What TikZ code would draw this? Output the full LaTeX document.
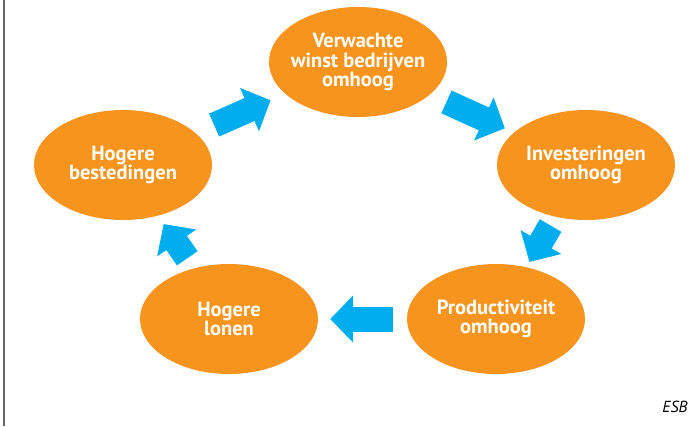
\documentclass[tikz,border=0pt]{standalone}
\usepackage{fontspec}
\setmainfont{PT Sans}
\usetikzlibrary{positioning,arrows.meta,shapes.geometric}

\definecolor{esborange}{HTML}{F7941D}
\definecolor{esbblue}{HTML}{00AEEF}

\begin{document}
\begin{tikzpicture}[
  x=1pt,
  y=-1pt,
  bubble/.style={ellipse, fill=esborange, text=white, align=center,
    font=\fontsize{20.5}{19.5}\selectfont\bfseries,
    minimum width=178pt, minimum height=110pt,
    inner xsep=-6pt, inner ysep=0pt},
  flow/.style={draw=esbblue, line width=25pt,
    -{Triangle[length=23pt,width=46pt]}},
  ]
  \useasboundingbox (0,0) rectangle (698,426);
  \draw [line width=2pt, black!60] (4,0) -- (4,426);

  % the five steps of the cycle
  \node [bubble] (winst-up) at (358,62) {Verwachte\\winst bedrijven\\omhoog};
  \node [bubble] (invest-up) at (586,165) {Investeringen\\omhoog};
  \node [bubble] (prod-up) at (496,319) {Productiviteit\\omhoog};
  \node [bubble] (loon-up) at (229,319) {Hogere\\lonen};
  \node [bubble] (best-up) at (123,165) {Hogere\\bestedingen};

  \draw [flow, shorten <=20pt, shorten >=16pt] (best-up) -- (winst-up);
  \draw [flow, shorten <=18pt, shorten >=10pt] (winst-up) -- (invest-up);
  \draw [flow, shorten <=10pt, shorten >=6pt] (invest-up) -- (prod-up);
  \draw [flow, shorten <=14pt, shorten >=12pt] (prod-up) -- (loon-up);
  \draw [flow, shorten <=12pt, shorten >=10pt] (loon-up) -- (best-up);

  \node [anchor=base east, font=\fontsize{16}{16}\selectfont\itshape] (bron) at (691,412) {ESB};
\end{tikzpicture}
\end{document}
